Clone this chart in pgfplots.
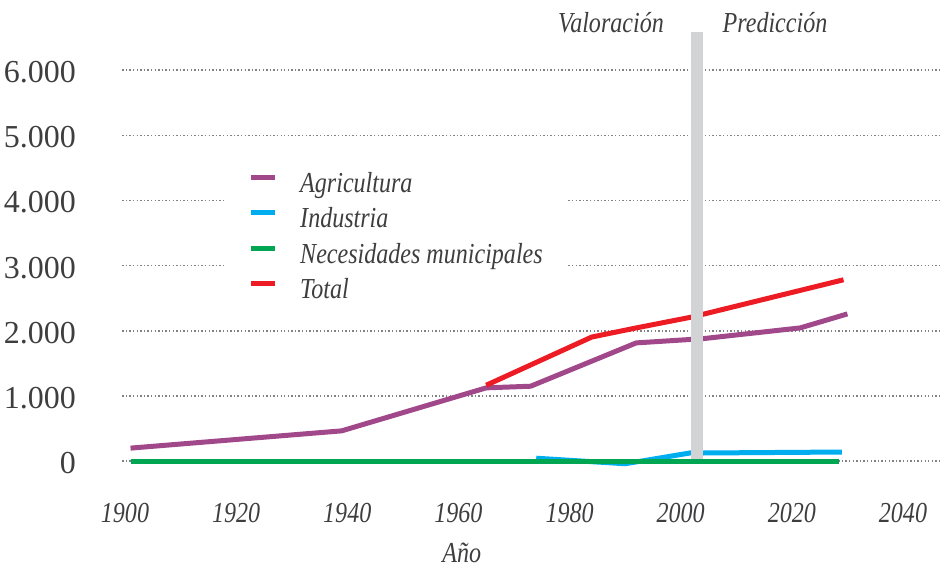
\documentclass[border=0pt]{standalone}
\usepackage{fontspec}
\setmainfont{Liberation Serif}[ItalicFeatures={FakeStretch=0.83}]
\usepackage{pgfplots}
\pgfplotsset{compat=1.18}

\definecolor{agri}{RGB}{160,72,138}
\definecolor{indu}{RGB}{0,174,239}
\definecolor{muni}{RGB}{0,166,81}
\definecolor{total}{RGB}{237,28,36}
\definecolor{barra}{RGB}{209,211,212}
\definecolor{rejilla}{RGB}{128,130,133}
\definecolor{texto}{RGB}{62,62,64}

\newcommand{\numfont}{\fontsize{16}{18}\selectfont}
\newcommand{\itfont}{\fontsize{14.5}{16}\selectfont\itshape}

\begin{document}
\begin{tikzpicture}
\begin{axis}[
  scale only axis,
  width=410.1pt, height=234.7pt,
  xmin=1899.5, xmax=2047,
  ymin=-500, ymax=6700,
  clip=false,
  axis line style={draw=none},
  major tick length=0pt,
  xtick={1900,1920,...,2040},
  xticklabels={1900,1920,1940,1960,1980,2000,2020,2040},
  ytick={0,1000,...,6000},
  yticklabels={0,1.000,2.000,3.000,4.000,5.000,6.000},
  /pgf/number format/assume math mode=true,
  xticklabel style={font=\itfont, text=texto, anchor=north, inner sep=0pt, yshift=-4.5pt},
  yticklabel style={font=\numfont, text=texto, anchor=east, inner sep=0pt, xshift=-23pt, yshift=-1pt},
  ymajorgrids=true,
  grid style={rejilla, line width=0.8pt, dash pattern=on 0.7pt off 1.1pt},
  every axis plot/.append style={line width=2.5pt},
  legend cell align=left,
  legend image code/.code={\path (0pt,0pt) (12pt,0pt);\draw[#1] (0pt,4pt) -- (12pt,4pt);},
  legend style={draw=none, fill=white, font=\itfont, text=texto,
    at={(axis cs:1917.8,4513)}, anchor=north west,
    inner xsep=12pt, inner ysep=0pt, row sep=0pt, column sep=11.5pt,
    nodes={inner xsep=0pt, inner ysep=1.875pt, text height=10.5pt, text depth=3.5pt}},
]
\addplot[agri] coordinates {
  (1901,200)(1939,465)(1965,1125)(1973,1150)(1992,1815)(2004,1880)(2021.5,2045)(2030,2260)};
\addplot[indu] coordinates {
  (1974,45)(1990,-40)(2002,130)(2004,125)(2029,140)};
\addplot[muni] coordinates {
  (1901,0)(2028.5,0)};
\addplot[total] coordinates {
  (1965,1165)(1984,1905)(1992,2045)(2002,2212)(2029.3,2784)};
\legend{Agricultura, Industria, Necesidades municipales, Total}

\fill[barra] (axis cs:2001.85,38) rectangle (axis cs:2004.01,6587);

\node[anchor=base, inner sep=0pt, font=\itfont, text=texto] at (axis cs:1987.46,6572) {Valoración};
\node[anchor=base, inner sep=0pt, font=\itfont, text=texto] at (axis cs:2016.97,6572) {Predicción};
\node[anchor=base, inner sep=0pt, font=\itfont, text=texto] at (axis cs:1960.6,-1560) {Año};

\path (axis cs:1877.51,-1633.4) rectangle (axis cs:2048.82,7078.2);
\end{axis}
\end{tikzpicture}
\end{document}
